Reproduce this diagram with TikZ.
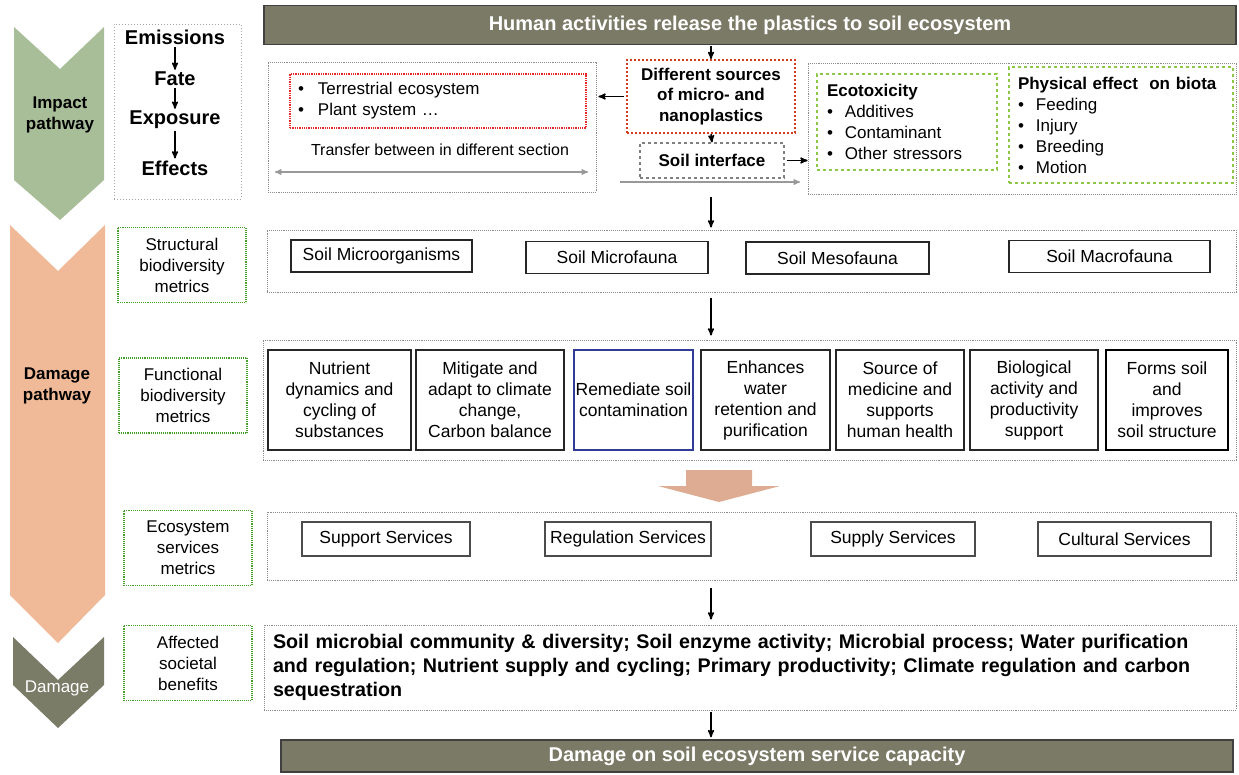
\documentclass[tikz,border=0pt]{standalone}
\usepackage{fontspec}
\setmainfont{Liberation Sans}
\usepackage{tikz}
\definecolor{colimpact}{RGB}{168,190,152}
\definecolor{coldamage}{RGB}{240,186,152}
\definecolor{colsociety}{RGB}{122,124,104}
\definecolor{colbar}{RGB}{122,122,102}
\definecolor{colblock}{RGB}{222,172,146}
\definecolor{colred}{RGB}{232,40,40}
\definecolor{colsource}{RGB}{210,60,30}
\definecolor{colgreen}{RGB}{70,160,40}
\definecolor{collime}{RGB}{140,200,70}
\definecolor{colblue}{RGB}{50,60,150}
\usetikzlibrary{arrows}
\tikzset{
	>=stealth',
	flow/.style={->, line width=1.5pt, black},
	gray flow/.style={->, line width=1.3pt, gray!80},
	panel/.style={draw=gray!90, densely dotted, line width=0.9pt, inner sep=0pt},
	stage/.style={align=center, font=\bfseries\fontsize{17}{21}\selectfont},
	chain box/.style={draw=gray!70, dotted, line width=1pt, minimum width=127pt, minimum height=175pt},
	chain step/.style={font=\bfseries\fontsize{20}{24}\selectfont, inner sep=2pt},
	metric/.style={draw=colgreen, densely dotted, line width=1.1pt, align=center, minimum width=128pt, minimum height=75pt, font=\fontsize{17}{21}\selectfont},
	bar/.style={fill=colbar, draw=black!75, line width=1.5pt, text=white, font=\bfseries\fontsize{20}{22}\selectfont},
	item/.style={draw=black!85, line width=1.1pt, align=center, inner sep=0pt, font=\fontsize{17.5}{21}\selectfont},
	bullets/.style={align=left, inner sep=0pt, font=\fontsize{17}{21}\selectfont},
	red box/.style={bullets, draw=colred, densely dotted, line width=1.3pt},
	lime box/.style={bullets, draw=collime, dashed, line width=1.5pt},
	source/.style={draw=colsource, dotted, line width=2pt, align=center, minimum width=168pt, minimum height=73pt, inner sep=0pt, font=\bfseries\fontsize{17}{20.5}\selectfont},
	interface/.style={draw=gray, dashed, line width=1.2pt, minimum width=144pt, minimum height=35pt, inner sep=0pt, font=\bfseries\fontsize{17}{20}\selectfont}
}
\begin{document}
\begin{tikzpicture}[x=1pt, y=-1pt]
	\useasboundingbox (0,0) rectangle (1239,774);
	\fill[colimpact] (14,27) -- (60,69) -- (104,27) -- (104,180) -- (60,220) -- (14,180) -- cycle;
	\fill[coldamage] (10,225) -- (58,271) -- (105,225) -- (105,595) -- (58,643) -- (10,595) -- cycle;
	\fill[colsociety] (13,637) -- (58,680) -- (104,637) -- (104,685) -- (58,728) -- (13,685) -- cycle;
	\node[stage] (impact) at (60,115) {Impact\\pathway};
	\node[stage] (damagepath) at (57,386) {Damage\\pathway};
	\node[stage, text=white, font=\fontsize{17}{21}\selectfont] (damage) at (57,688) {Damage};

	\node[chain box] (chain) at (177.5,111.5) {};
	\foreach \name/\y [count=\i] in {Emissions/37,Fate/79,Exposure/120,Effects/168}
		\node[chain step] (step\i) at (175,\y) {\name};
	\foreach \i/\j in {1/2,2/3,3/4}
		\draw[flow] (step\i) -- (step\j);

	\foreach \label/\x/\y [count=\i] in {{Structural\\biodiversity\\metrics}/182/265, {Functional\\biodiversity\\metrics}/183/395.5, {Ecosystem\\services\\metrics}/188/548, {Affected\\societal\\benefits}/188/663}
		\node[metric] (metric\i) at (\x,\y) {\label};

	\node[bar, minimum width=972pt, minimum height=39pt] (release) at (750,25) {Human activities release the plastics to soil ecosystem};
	\node[bar, minimum width=952pt, minimum height=32pt] (capacity) at (757,756) {Damage on soil ecosystem service capacity};

	\node[panel, minimum width=328pt, minimum height=130pt] (transfer) at (432,127) {};
	\node[panel, minimum width=428pt, minimum height=131pt] (effects) at (1022,128.5) {};
	\node[panel, minimum width=969pt, minimum height=62pt] (structure) at (751.5,261) {};
	\node[panel, minimum width=973pt, minimum height=120pt] (function) at (749.5,400) {};
	\node[panel, minimum width=969pt, minimum height=68pt] (services) at (751.5,546) {};
	\node[panel, minimum width=972pt, minimum height=85pt, text width=954pt, align=left, font=\bfseries\fontsize{19.7}{24}\selectfont] (benefits) at (750,667.5) {Soil microbial community \& diversity; Soil enzyme activity; Microbial process; Water purification\\and regulation; Nutrient supply and cycling; Primary productivity; Climate regulation and carbon\\sequestration};

	\node[source] (sources) at (711,96.5) {Different sources\\of micro- and\\nanoplastics};
	\node[interface] (interface) at (712,160.5) {Soil interface};
	\node[red box, minimum width=296pt, minimum height=54pt, text width=280pt] (media) at (438,101) {\textbullet\hspace{14pt}Terrestrial ecosystem\\\textbullet\hspace{14pt}Plant system …};
	\node[font=\fontsize{16}{19}\selectfont] (transferlabel) at (440,150) {Transfer between in different section};
	\coordinate (transferl) at (275,172);
	\coordinate (transferr) at (588,172);
	\draw[gray flow, <->] (transferl) -- (transferr);
	\coordinate (soill) at (620,182);
	\coordinate (soilr) at (800,182);
	\draw[gray flow] (soill) -- (soilr);

	\node[lime box, minimum width=180pt, minimum height=96pt, text width=160pt] (ecotox) at (907,122) {\textbf{Ecotoxicity}\\\textbullet\hspace{12pt}Additives\\\textbullet\hspace{12pt}Contaminant\\\textbullet\hspace{12pt}Other stressors};
	\node[lime box, minimum width=224pt, minimum height=116pt, text width=206pt] (physical) at (1121,125) {\textbf{Physical effect\ \ on biota}\\\textbullet\hspace{12pt}Feeding\\\textbullet\hspace{12pt}Injury\\\textbullet\hspace{12pt}Breeding\\\textbullet\hspace{12pt}Motion};

	\foreach \label/\x/\y/\w [count=\i] in {Soil Microorganisms/381.5/256/181, Soil Microfauna/617/257.5/182, Soil Mesofauna/837.5/258/183, Soil Macrofauna/1109.5/256.5/201}
		\node[item, minimum width=\w pt, minimum height=32pt] (taxa\i) at (\x,\y) {\label};

	\foreach \label/\x/\w/\col [count=\i] in {
		{Nutrient\\dynamics and\\cycling of\\substances}/339.5/143/black!85,
		{Mitigate and\\adapt to climate\\change,\\Carbon balance}/490/148/black!85,
		{Remediate soil\\contamination}/633.5/119/colblue,
		{Enhances\\water\\retention and\\purification}/765.5/129/black!85,
		{Source of\\medicine and\\supports\\human health}/900/128/black!85,
		{Biological\\activity and\\productivity\\support}/1034/128/black!85,
		{Forms soil\\and\\improves\\soil structure}/1167/122/black}
		\node[item, draw=\col, minimum width=\w pt, minimum height=100pt] (role\i) at (\x,400) {\label};

	\foreach \label/\x/\w [count=\i] in {Support Services/386/168, Regulation Services/628/166, Supply Services/893/164, Cultural Services/1124.5/173}
		\node[item, draw=black!70, minimum width=\w pt, minimum height=34pt] (service\i) at (\x,539) {\label};

	\fill[colblock] (686,470) -- (752,470) -- (752,486) -- (780,486) -- (719,502) -- (658,486) -- (686,486) -- cycle;

	\draw[flow, shorten <=1pt] (sources.north |- release.south) -- (sources.north);
	\draw[flow, shorten <=2pt, shorten >=2pt] (sources.west) -- (sources.west -| transfer.east);
	\draw[flow] (sources.south) -- (interface.north);
	\draw[flow, shorten <=2pt] (interface.east) -- (interface.east -| effects.west);
	\draw[flow, shorten <=3pt, shorten >=2pt] (sources.south |- effects.south) -- (sources.south |- structure.north);
	\draw[flow, shorten <=6pt, shorten >=4pt] (sources.south |- structure.south) -- (sources.south |- function.north);
	\draw[flow, shorten <=8pt, shorten >=5pt] (sources.south |- services.south) -- (sources.south |- benefits.north);
	\draw[flow, shorten <=2pt, shorten >=2pt] (sources.south |- benefits.south) -- (sources.south |- capacity.north);
\end{tikzpicture}
\end{document}
